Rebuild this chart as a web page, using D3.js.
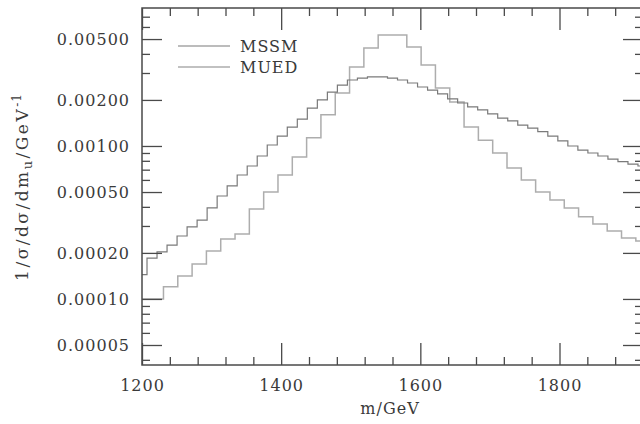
<!DOCTYPE html>
<html>
<head>
<meta charset="utf-8">
<script src="https://cdn.jsdelivr.net/npm/d3@7"></script>
<style>
  body { margin: 0; background: #fff; }
  text { font-family: "DejaVu Serif", serif; fill: #3a3a3a; letter-spacing: 1px; }
</style>
</head>
<body>
<svg id="chart" width="640" height="424"></svg>
<script>
// Normalised invariant-mass distributions, one value per histogram bin.
// MSSM: bins of 14.4 GeV centred on 1200, 1214.4, ... 1920
const mssmFirstCenter = 1200;
const mssmBinWidth = 14.4;
const mssmValues = [
  0.000144, 0.000185, 0.000203, 0.000225, 0.000258, 0.000296, 0.000328, 0.000394,
  0.000471, 0.000548, 0.000646, 0.00074, 0.00086, 0.001015, 0.00116, 0.00133,
  0.0015, 0.00177, 0.0020, 0.00225, 0.0025, 0.0027, 0.00278, 0.00283,
  0.00283, 0.00278, 0.0027, 0.00258, 0.00243, 0.00232, 0.00219, 0.00203,
  0.00191, 0.0018, 0.00172, 0.00162, 0.00152, 0.00146, 0.00137, 0.00131,
  0.00124, 0.00116, 0.00108, 0.0010, 0.00094, 0.0009, 0.00086, 0.00082,
  0.00079, 0.00076, 0.00074
];

// MUED: bins of 20.57 GeV centred on 1200, 1220.57, ... 1920
const muedFirstCenter = 1200;
const muedBinWidth = 20.571;
const muedValues = [
  0.0001, 0.0001, 0.00012, 0.000141, 0.000169, 0.000206, 0.000247, 0.000266,
  0.000388, 0.0005, 0.000646, 0.000847, 0.00113, 0.0016, 0.00222, 0.00328,
  0.00437, 0.00532, 0.00532, 0.00444, 0.00338, 0.00239, 0.00194, 0.00133,
  0.00109, 0.0009, 0.000718, 0.0006, 0.0005, 0.000444, 0.000393, 0.000344,
  0.000309, 0.000278, 0.00025, 0.000239
];

const xTickValues = [1200, 1400, 1600, 1800];
const xMinorTickValues = [1240, 1280, 1320, 1360, 1440, 1480, 1520, 1560,
                          1640, 1680, 1720, 1760, 1840, 1880];
const yTickValues = [0.005, 0.002, 0.001, 0.0005, 0.0002, 0.0001, 0.00005];
const yTickLabels = ["0.00500", "0.00200", "0.00100", "0.00050", "0.00020", "0.00010", "0.00005"];
const yMinorTickValues = [0.00004, 0.00006, 0.00007, 0.00008, 0.00009,
                          0.0003, 0.0004, 0.0006, 0.0007, 0.0008, 0.0009,
                          0.003, 0.004, 0.006, 0.007];
const seriesNames = ["MSSM", "MUED"];
const seriesColors = ["#7a7a7a", "#adadad"];
const seriesWidths = [1.2, 1.5];

const plotLeft = 142, plotRight = 643, plotTop = 8, plotBottom = 365;

const svg = d3.select("#chart");

const x = d3.scaleLinear().domain([1200, 1920]).range([plotLeft, plotRight]);
const y = d3.scaleLog().domain([0.000037, 0.00798]).range([plotBottom, plotTop]);

svg.append("defs").append("clipPath").attr("id", "plotClip")
  .append("rect").attr("x", plotLeft).attr("y", plotTop)
  .attr("width", plotRight - plotLeft).attr("height", plotBottom - plotTop);

// Histogram outline: each bin spans centre +/- half a bin width
function stepPoints(firstCenter, width, values) {
  const pts = values.map((v, i) => ({ e: firstCenter + i * width - width / 2, v }));
  pts.push({ e: firstCenter + values.length * width - width / 2, v: values[values.length - 1] });
  return pts;
}
const stepLine = d3.line()
  .x(d => x(d.e))
  .y(d => y(d.v))
  .curve(d3.curveStepAfter);

const plot = svg.append("g").attr("clip-path", "url(#plotClip)");
plot.append("path")
  .datum(stepPoints(muedFirstCenter, muedBinWidth, muedValues))
  .attr("fill", "none").attr("stroke", seriesColors[1]).attr("stroke-width", seriesWidths[1])
  .attr("d", stepLine);
plot.append("path")
  .datum(stepPoints(mssmFirstCenter, mssmBinWidth, mssmValues))
  .attr("fill", "none").attr("stroke", seriesColors[0]).attr("stroke-width", seriesWidths[0])
  .attr("d", stepLine);

// Axes with inward-pointing ticks on all four sides
const axisColor = "#4a4a4a";
function styleAxis(g) {
  g.select(".domain").remove();
  g.selectAll("line").attr("stroke", axisColor).attr("stroke-width", 1.3);
  g.selectAll("text").style("font-size", "16px").attr("fill", "#3a3a3a");
}

svg.append("g").attr("transform", `translate(0,${plotBottom})`)
  .call(d3.axisBottom(x).tickValues(xTickValues).tickSizeInner(-22).tickSizeOuter(0)
    .tickPadding(15).tickFormat(d3.format("d")))
  .call(styleAxis);
svg.append("g").attr("transform", `translate(0,${plotBottom})`)
  .call(d3.axisBottom(x).tickValues(xMinorTickValues).tickSizeInner(-8).tickSizeOuter(0).tickFormat(""))
  .call(styleAxis);
svg.append("g").attr("transform", `translate(0,${plotTop})`)
  .call(d3.axisTop(x).tickValues(xTickValues).tickSizeInner(-22).tickSizeOuter(0).tickFormat(""))
  .call(styleAxis);
svg.append("g").attr("transform", `translate(0,${plotTop})`)
  .call(d3.axisTop(x).tickValues(xMinorTickValues).tickSizeInner(-8).tickSizeOuter(0).tickFormat(""))
  .call(styleAxis);

svg.append("g").attr("transform", `translate(${plotLeft},0)`)
  .call(d3.axisLeft(y).tickValues(yTickValues).tickSizeInner(-20).tickSizeOuter(0)
    .tickPadding(12).tickFormat((d, i) => yTickLabels[i]))
  .call(styleAxis);
svg.append("g").attr("transform", `translate(${plotLeft},0)`)
  .call(d3.axisLeft(y).tickValues(yMinorTickValues).tickSizeInner(-8).tickSizeOuter(0).tickFormat(""))
  .call(styleAxis);
svg.append("g").attr("transform", `translate(${plotRight},0)`)
  .call(d3.axisRight(y).tickValues(yTickValues).tickSizeInner(-20).tickSizeOuter(0).tickFormat(""))
  .call(styleAxis);
svg.append("g").attr("transform", `translate(${plotRight},0)`)
  .call(d3.axisRight(y).tickValues(yMinorTickValues).tickSizeInner(-8).tickSizeOuter(0).tickFormat(""))
  .call(styleAxis);

// Frame
svg.append("rect")
  .attr("x", plotLeft).attr("y", plotTop)
  .attr("width", plotRight - plotLeft).attr("height", plotBottom - plotTop)
  .attr("fill", "none").attr("stroke", axisColor).attr("stroke-width", 1.5);

// Axis titles
svg.append("text")
  .attr("x", 390).attr("y", 414)
  .attr("text-anchor", "middle")
  .style("font-size", "16px")
  .text("m/GeV");

const yTitle = svg.append("text")
  .attr("transform", "translate(28,187) rotate(-90)")
  .attr("text-anchor", "middle")
  .style("font-size", "17px")
  .style("letter-spacing", "2.5px");
yTitle.append("tspan").text("1/σ/dσ/dm");
yTitle.append("tspan").attr("dy", 4).style("font-size", "13px").text("u");
yTitle.append("tspan").attr("dy", -4).text("/GeV");
yTitle.append("tspan").attr("dy", -7).style("font-size", "12px").style("letter-spacing", "1px").text("-1");

// Legend
const legend = svg.append("g");
seriesNames.forEach((name, i) => {
  const ly = 46 + i * 21;
  legend.append("line")
    .attr("x1", 178).attr("x2", 230).attr("y1", ly).attr("y2", ly)
    .attr("stroke", seriesColors[i]).attr("stroke-width", seriesWidths[i]);
  legend.append("text")
    .attr("x", 240).attr("y", ly + 6)
    .style("font-size", "16px")
    .text(name);
});
</script>
</body>
</html>
